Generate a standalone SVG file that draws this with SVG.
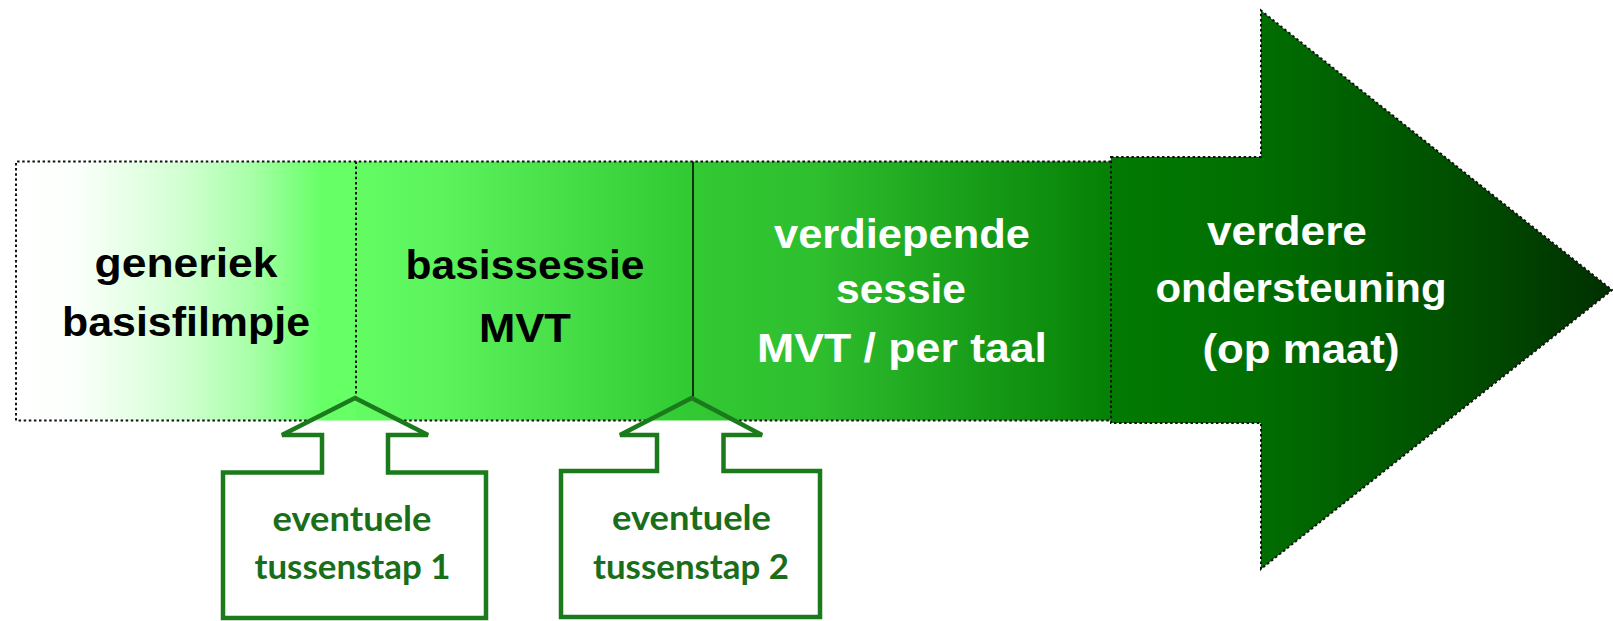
<svg xmlns="http://www.w3.org/2000/svg" width="1613" height="621" viewBox="0 0 1613 621">
  <style>
    .main { font-family: "Liberation Sans", Arial, sans-serif; font-weight: bold; font-size: 40px; text-anchor: middle; }
    .dark { fill: #000000; }
    .light { fill: #ffffff; }
    .dot { fill: none; stroke: #111111; stroke-width: 2; stroke-dasharray: 2.5 2.6; }
    .callout { fill: none; stroke: #1b7a1b; stroke-width: 4.5; stroke-linejoin: miter; }
    .ctext { font-family: Lato, "Open Sans", "Liberation Sans", sans-serif; font-weight: bold; font-size: 35px; fill: #1a6e1a; text-anchor: middle; }
  </style>
  <defs>
    <linearGradient id="g1" gradientUnits="userSpaceOnUse" x1="16" y1="0" x2="356" y2="0">
      <stop offset="0" stop-color="#ffffff"/>
      <stop offset="0.18" stop-color="#fbfffb"/>
      <stop offset="0.5" stop-color="#d0ffd0"/>
      <stop offset="0.7" stop-color="#a6ffa6"/>
      <stop offset="0.9" stop-color="#66ff66"/>
      <stop offset="1" stop-color="#66ff66"/>
    </linearGradient>
    <linearGradient id="g2" gradientUnits="userSpaceOnUse" x1="356" y1="0" x2="693" y2="0">
      <stop offset="0" stop-color="#63fc63"/>
      <stop offset="0.25" stop-color="#5cf35c"/>
      <stop offset="1" stop-color="#31c931"/>
    </linearGradient>
    <linearGradient id="g3" gradientUnits="userSpaceOnUse" x1="693" y1="0" x2="1111" y2="0">
      <stop offset="0" stop-color="#33c933"/>
      <stop offset="0.3" stop-color="#2ebe2e"/>
      <stop offset="1" stop-color="#058005"/>
    </linearGradient>
    <linearGradient id="g4" gradientUnits="userSpaceOnUse" x1="1111" y1="0" x2="1612" y2="0">
      <stop offset="0" stop-color="#027a02"/>
      <stop offset="0.3" stop-color="#016e01"/>
      <stop offset="0.7" stop-color="#004e00"/>
      <stop offset="1" stop-color="#003000"/>
    </linearGradient>
  </defs>

  <rect width="1613" height="621" fill="#ffffff"/>

  <g id="node1">
    <rect x="16" y="161.5" width="340" height="259" fill="url(#g1)"/>
    <text class="main dark" x="186" y="277" textLength="183" lengthAdjust="spacingAndGlyphs">generiek</text>
    <text class="main dark" x="186" y="336" textLength="248" lengthAdjust="spacingAndGlyphs">basisfilmpje</text>
  </g>

  <g id="node2">
    <rect x="356" y="161.5" width="337" height="259" fill="url(#g2)"/>
    <text class="main dark" x="525" y="279" textLength="239" lengthAdjust="spacingAndGlyphs">basissessie</text>
    <text class="main dark" x="525" y="342" textLength="92" lengthAdjust="spacingAndGlyphs">MVT</text>
  </g>

  <g id="node3">
    <rect x="693" y="161.5" width="418" height="259" fill="url(#g3)"/>
    <text class="main light" x="902" y="248" textLength="256" lengthAdjust="spacingAndGlyphs">verdiepende</text>
    <text class="main light" x="901" y="303" textLength="130" lengthAdjust="spacingAndGlyphs">sessie</text>
    <text class="main light" x="902" y="362" textLength="290" lengthAdjust="spacingAndGlyphs">MVT / per taal</text>
  </g>

  <g id="node4">
    <path d="M1111,157 L1261,157 L1261,10.5 L1612,290 L1261,569 L1261,423 L1111,423 Z" fill="url(#g4)"/>
    <path class="dot" d="M1111,157 L1261,157 L1261,10.5 L1612,290 L1261,569 L1261,423 L1111,423 Z"/>
    <text class="main light" x="1287" y="245" textLength="160" lengthAdjust="spacingAndGlyphs">verdere</text>
    <text class="main light" x="1301" y="302" textLength="291" lengthAdjust="spacingAndGlyphs">ondersteuning</text>
    <text class="main light" x="1301" y="363" textLength="197" lengthAdjust="spacingAndGlyphs">(op maat)</text>
  </g>

  <g id="borders">
    <path class="dot" d="M1111,161.5 L16,161.5 L16,420.5 L311,420.5"/>
    <path class="dot" d="M399,420.5 L649,420.5"/>
    <path class="dot" d="M734,420.5 L1111,420.5"/>
    <path class="dot" d="M356,161.5 L356,398"/>
    <line x1="693" y1="161.5" x2="693" y2="398" stroke="#0a0a0a" stroke-width="1.6"/>
  </g>

  <g id="callout1">
    <path class="callout" d="M355,398 L428,435 L388,435 L388,472.5 L486,472.5 L486,618 L223,618 L223,472.5 L322,472.5 L322,435 L282,435 Z"/>
    <text class="ctext" x="352" y="531" textLength="159" lengthAdjust="spacingAndGlyphs">eventuele</text>
    <text class="ctext" x="352.5" y="578.5" textLength="196" lengthAdjust="spacingAndGlyphs">tussenstap 1</text>
  </g>

  <g id="callout2">
    <path class="callout" d="M691.7,398 L762,435 L723.5,435 L723.5,471 L820,471 L820,617 L561,617 L561,471 L657,471 L657,435 L620,435 Z"/>
    <text class="ctext" x="691.5" y="530" textLength="159" lengthAdjust="spacingAndGlyphs">eventuele</text>
    <text class="ctext" x="691" y="578.5" textLength="196" lengthAdjust="spacingAndGlyphs">tussenstap 2</text>
  </g>

  <g id="connectors"></g>
</svg>
